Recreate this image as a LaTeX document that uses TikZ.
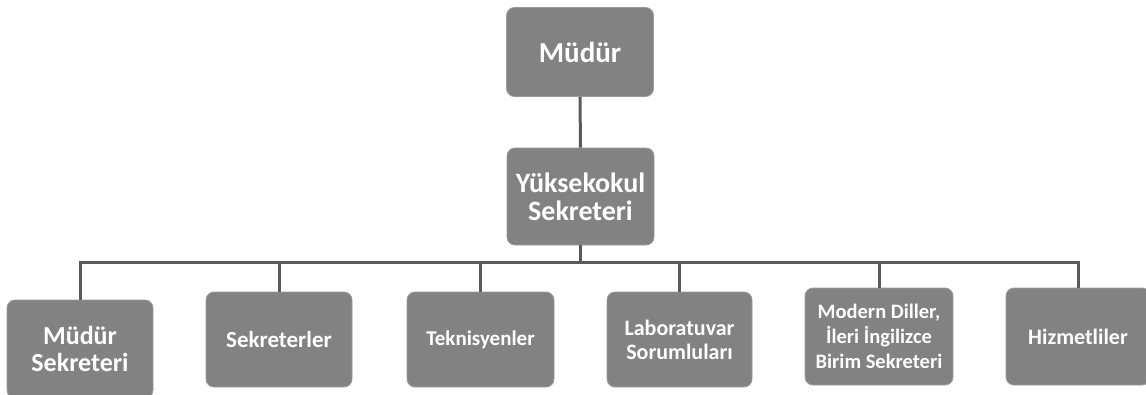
\documentclass[tikz,border=0pt]{standalone}
\usepackage{fontspec}
\setmainfont{Carlito}
\definecolor{boxgray}{RGB}{130,130,130}
\definecolor{linegray}{RGB}{90,90,90}
\begin{document}
\begin{tikzpicture}[x=1pt,y=-1pt,
  orgbox/.style={rectangle, rounded corners=8pt, fill=boxgray, draw=boxgray!80!white, line width=0.8pt,
     text=white, font=\bfseries, align=center, inner sep=2pt},
  link/.style={draw=linegray, line width=3pt}]
\useasboundingbox (0,0) rectangle (1146,394);
\node[orgbox, minimum width=147pt, minimum height=89pt, font=\bfseries\fontsize{29}{31}\selectfont] (mudur) at (580,52) {Müdür};
\node[orgbox, minimum width=147pt, minimum height=97pt, font=\bfseries\fontsize{28}{28}\selectfont] (ys) at (580.5,196.5) {Yüksekokul\\Sekreteri};
\node[orgbox, minimum width=146pt, minimum height=98pt, font=\bfseries\fontsize{26}{27}\selectfont] (ms) at (80,349) {Müdür\\Sekreteri};
\node[orgbox, minimum width=146pt, minimum height=95pt, font=\bfseries\fontsize{23}{24}\selectfont] (sek) at (279,339.5) {Sekreterler};
\node[orgbox, minimum width=147pt, minimum height=95pt, font=\bfseries\fontsize{21}{24}\selectfont] (tek) at (480.5,339.5) {Teknisyenler};
\node[orgbox, minimum width=145pt, minimum height=95pt, font=\bfseries\fontsize{22}{24}\selectfont] (lab) at (679.5,339.5) {Laboratuvar\\Sorumluları};
\node[orgbox, minimum width=148pt, minimum height=97pt, font=\bfseries\fontsize{20.5}{25}\selectfont] (mod) at (879,336.5) {Modern Diller,\\İleri İngilizce\\Birim Sekreteri};
\node[orgbox, minimum width=144pt, minimum height=97pt, font=\bfseries\fontsize{22}{24}\selectfont] (hiz) at (1078,336.5) {Hizmetliler};
\coordinate (bus) at (0,262);
\draw[link] (mudur) -- (ys);
\draw[link] (ys.south) -- (ys.south |- bus);
\draw[link] (ms.north) -- (ms.north |- bus) -| (hiz.north);
\draw[link] (sek.north) -- (sek.north |- bus);
\draw[link] (tek.north) -- (tek.north |- bus);
\draw[link] (lab.north) -- (lab.north |- bus);
\draw[link] (mod.north) -- (mod.north |- bus);
\end{tikzpicture}
\end{document}
